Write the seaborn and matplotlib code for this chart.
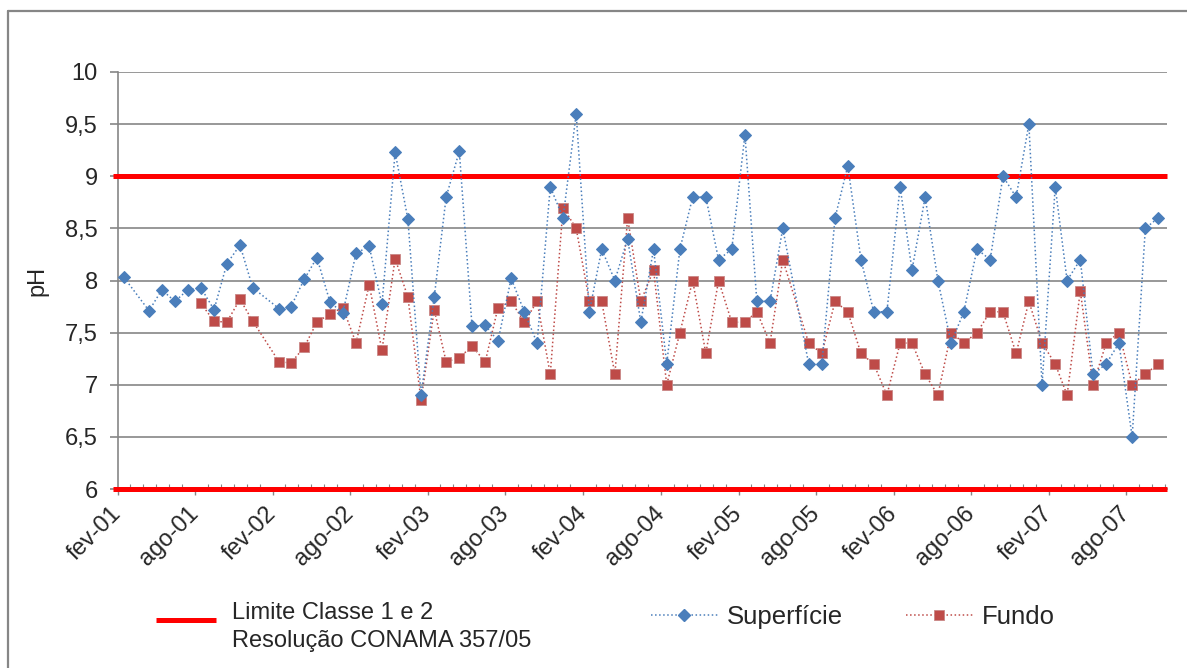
import pandas as pd
import numpy as np
import seaborn as sns
import matplotlib.pyplot as plt
import matplotlib.dates as mdates
from matplotlib.lines import Line2D

# pH mensal, fev/2001 a out/2007 (None = sem coleta)
superficie = [8.03, None, 7.71, 7.91, 7.80, 7.91, 7.93, 7.72, 8.16, 8.34, 7.93, None,
              7.73, 7.75, 8.01, 8.22, 7.79, 7.69, 8.26, 8.33, 7.77, 9.23, 8.59, 6.90,
              7.84, 8.80, 9.24, 7.56, 7.57, 7.42, 8.02, 7.70, 7.40, 8.90, 8.60, 9.60,
              7.70, 8.30, 8.00, 8.40, 7.60, 8.30, 7.20, 8.30, 8.80, 8.80, 8.20, 8.30,
              9.40, 7.80, 7.80, 8.50, None, 7.20, 7.20, 8.60, 9.10, 8.20, 7.70, 7.70,
              8.90, 8.10, 8.80, 8.00, 7.40, 7.70, 8.30, 8.20, 9.00, 8.80, 9.50, 7.00,
              8.90, 8.00, 8.20, 7.10, 7.20, 7.40, 6.50, 8.50, 8.60]
fundo = [None, None, None, None, None, None, 7.78, 7.61, 7.60, 7.82, 7.61, None,
         7.22, 7.21, 7.36, 7.60, 7.68, 7.74, 7.40, 7.96, 7.33, 8.21, 7.84, 6.85,
         7.72, 7.22, 7.26, 7.37, 7.22, 7.74, 7.80, 7.60, 7.80, 7.10, 8.70, 8.50,
         7.80, 7.80, 7.10, 8.60, 7.80, 8.10, 7.00, 7.50, 8.00, 7.30, 8.00, 7.60,
         7.60, 7.70, 7.40, 8.20, None, 7.40, 7.30, 7.80, 7.70, 7.30, 7.20, 6.90,
         7.40, 7.40, 7.10, 6.90, 7.50, 7.40, 7.50, 7.70, 7.70, 7.30, 7.80, 7.40,
         7.20, 6.90, 7.90, 7.00, 7.40, 7.50, 7.00, 7.10, 7.20]
limites = [9, 6]  # Resolução CONAMA 357/05, classes 1 e 2

rotulos_x = ['fev-01', 'ago-01', 'fev-02', 'ago-02', 'fev-03', 'ago-03', 'fev-04',
             'ago-04', 'fev-05', 'ago-05', 'fev-06', 'ago-06', 'fev-07', 'ago-07']
valores_y = [6, 6.5, 7, 7.5, 8, 8.5, 9, 9.5, 10]
rotulos_y = ['6', '6,5', '7', '7,5', '8', '8,5', '9', '9,5', '10']

azul = '#4A7EBB'
vermelho = '#BE4B48'
cinza = '#868686'

# coletas no meio de cada mês
datas = pd.date_range('2001-02-01', periods=len(superficie), freq='MS') + pd.Timedelta(days=14)
df = pd.DataFrame({'data': datas, 'Superfície': superficie, 'Fundo': fundo})

sns.set_style('white')
plt.rcParams['font.family'] = ['Liberation Sans', 'DejaVu Sans']

fig = plt.figure(figsize=(11.87, 6.68), dpi=100)
ax = fig.add_axes([118 / 1187, 1 - 489 / 668, (1167 - 118) / 1187, (489 - 72) / 668])

# limites em vermelho
for lim in limites:
    ax.axhline(lim, xmin=-0.005, xmax=1, color='#FF0000', lw=3.6, zorder=3,
               clip_on=False, solid_capstyle='butt')

sup = df.dropna(subset=['Superfície'])
fun = df.dropna(subset=['Fundo'])
sns.lineplot(x='data', y='Superfície', data=sup, ax=ax, color=azul, lw=1.1,
             linestyle=':', marker='D', markersize=5.8, markeredgecolor=azul,
             markerfacecolor=azul, zorder=5)
sns.lineplot(x='data', y='Fundo', data=fun, ax=ax, color=vermelho, lw=1.1,
             linestyle=':', marker='s', markersize=7, markeredgecolor='#C98786',
             markeredgewidth=0.6, markerfacecolor=vermelho, zorder=4)

ax.set_ylim(6, 10)
ax.set_yticks(valores_y)
ax.set_yticklabels(rotulos_y)
ax.set_xlim(pd.Timestamp('2001-02-01'), pd.Timestamp('2007-11-05'))
ticks_x = pd.date_range('2001-02-01', periods=len(rotulos_x), freq='6MS')
ax.set_xticks(ticks_x)
ax.set_xticklabels(rotulos_x, rotation=45, ha='right', va='center', rotation_mode='anchor')
ax.xaxis.set_minor_locator(mdates.MonthLocator())

ax.yaxis.grid(True, color=cinza, lw=1.2, zorder=0)
ax.xaxis.grid(False)
for s in ['top', 'right']:
    ax.spines[s].set_visible(False)
for s in ['left', 'bottom']:
    ax.spines[s].set_color(cinza)
    ax.spines[s].set_linewidth(1.2)

ax.tick_params(axis='y', direction='out', length=5.5, width=1.2, color=cinza,
               labelsize=17, pad=9, left=True)
ax.tick_params(axis='x', which='major', direction='out', length=4.5, width=1.0,
               color=cinza, labelsize=17, pad=11, bottom=True)
ax.tick_params(axis='x', which='minor', direction='in', length=3.5, width=0.8,
               color=cinza, bottom=True)

ax.set_xlabel('')
ax.set_ylabel('pH', fontsize=17, labelpad=12)

# legenda do limite (linha + texto em duas linhas)
fig.add_artist(Line2D([156 / 1187, 216 / 1187], [1 - 620 / 668] * 2, color='#FF0000',
                      lw=3.6, solid_capstyle='butt'))
fig.text(232 / 1187, 1 - 627 / 668, 'Limite Classe 1 e 2\nResolução CONAMA 357/05',
         fontsize=17, va='center', ha='left', linespacing=1.3)

# legenda das séries
h_ser = [Line2D([], [], color=azul, lw=1.1, linestyle=':', marker='D', markersize=5.8),
         Line2D([], [], color=vermelho, lw=1.1, linestyle=':', marker='s', markersize=7,
                markeredgecolor='#C98786', markeredgewidth=0.6)]
fig.legend(h_ser, ['Superfície', 'Fundo'], loc='center left',
           bbox_to_anchor=(651 / 1187, 1 - 617 / 668), ncol=2, frameon=False,
           fontsize=18.5, handlelength=2.6, handletextpad=0.35, columnspacing=2.45,
           borderpad=0, borderaxespad=0)

# moldura do gráfico
x0, y0 = 8 / 1187, 1 - 11 / 668
fig.add_artist(Line2D([x0, x0], [0, y0], color=cinza, lw=1.6))
fig.add_artist(Line2D([x0, 1], [y0, y0], color=cinza, lw=1.6))

fig.savefig('out.png', dpi=100)
